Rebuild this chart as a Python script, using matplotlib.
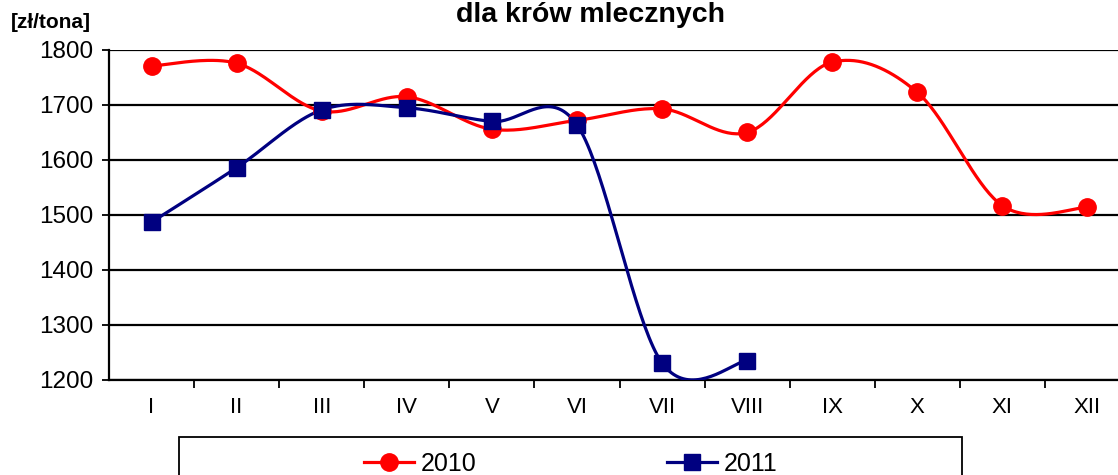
import matplotlib
matplotlib.use('Agg')

import numpy as np
import matplotlib.pyplot as plt
from matplotlib.lines import Line2D
from matplotlib.patches import Rectangle

plt.rcParams['font.family'] = ['Liberation Sans', 'DejaVu Sans']

months = ['I', 'II', 'III', 'IV', 'V', 'VI', 'VII', 'VIII', 'IX', 'X', 'XI', 'XII']
prices_2010 = [1771, 1776, 1689, 1715, 1656, 1672, 1693, 1650, 1778, 1723, 1517, 1514]
prices_2011 = [1487, 1586, 1691, 1695, 1670, 1664, 1231, 1235]
y_ticks = [1200, 1300, 1400, 1500, 1600, 1700, 1800]

RED = '#ff0000'
NAVY = '#000080'


def smooth(y, steps=40):
    # Excel-like smoothed line: cubic Bezier through the points
    pts = np.column_stack([np.arange(len(y)), y]).astype(float)
    pad = np.vstack([pts[0], pts, pts[-1]])
    t = np.linspace(0, 1, steps)[:, None]
    out = []
    for i in range(len(pts) - 1):
        p0, p3 = pad[i + 1], pad[i + 2]
        c1 = p0 + (pad[i + 2] - pad[i]) / 6
        c2 = p3 - (pad[i + 3] - pad[i + 1]) / 6
        seg = (1 - t) ** 3 * p0 + 3 * (1 - t) ** 2 * t * c1 + 3 * (1 - t) * t ** 2 * c2 + t ** 3 * p3
        out.append(seg)
    out = np.vstack(out)
    return out[:, 0], out[:, 1]


fig = plt.figure(figsize=(11.18, 4.75), dpi=100)
ax = fig.add_axes([109 / 1118, 95 / 475, 1021 / 1118, 330 / 475])

for vals, color, marker, ms in [(prices_2010, RED, 'o', 12.5), (prices_2011, NAVY, 's', 11.5)]:
    sx, sy = smooth(vals)
    ax.plot(sx, sy, color=color, lw=2.3, zorder=3)
    ax.plot(range(len(vals)), vals, ls='none', marker=marker, ms=ms,
            color=color, zorder=4, clip_on=False)

ax.set_xlim(-0.5, 11.5)
ax.set_ylim(1200, 1800)
ax.set_yticks(y_ticks)
ax.set_yticklabels([str(v) for v in y_ticks], fontsize=17.5)
ax.yaxis.grid(True, color='black', lw=1.6)
ax.set_axisbelow(True)

ax.set_xticks(range(12))
ax.set_xticklabels(months, fontsize=16)
ax.set_xticks(np.arange(0.5, 11.5, 1), minor=True)
ax.tick_params(axis='x', which='major', length=0, pad=12)
ax.tick_params(axis='x', which='minor', length=6, width=1.3, direction='out')
ax.tick_params(axis='y', length=5, width=1.3, pad=6)

for s in ['top', 'right']:
    ax.spines[s].set_visible(False)
ax.spines['left'].set_linewidth(1.6)
ax.spines['bottom'].set_linewidth(1.6)

fig.text(591 / 1118, 1 - 22 / 475, 'dla krów mlecznych', ha='center', va='baseline',
         fontsize=20.5, fontweight='bold')
fig.text(11 / 1118, 1 - 23 / 475, '[zł/tona]', ha='left', va='center',
         fontsize=15, fontweight='bold')

# legend box (cut off at the bottom edge)
fig.patches.append(Rectangle((179 / 1118, -0.05), (962 - 179) / 1118, 0.05 + 38 / 475,
                             transform=fig.transFigure, fill=False, ec='black', lw=1.3))
handles = [Line2D([], [], color=RED, lw=2.3, marker='o', ms=12.5),
           Line2D([], [], color=NAVY, lw=2.3, marker='s', ms=11.5)]
fig.legend(handles, ['2010', '2011'], loc='center', bbox_to_anchor=(571 / 1118, 11 / 475),
           ncol=2, frameon=False, fontsize=18, handlelength=2.0, handletextpad=0.28,
           columnspacing=7.6)

fig.savefig('out.png', dpi=100)
